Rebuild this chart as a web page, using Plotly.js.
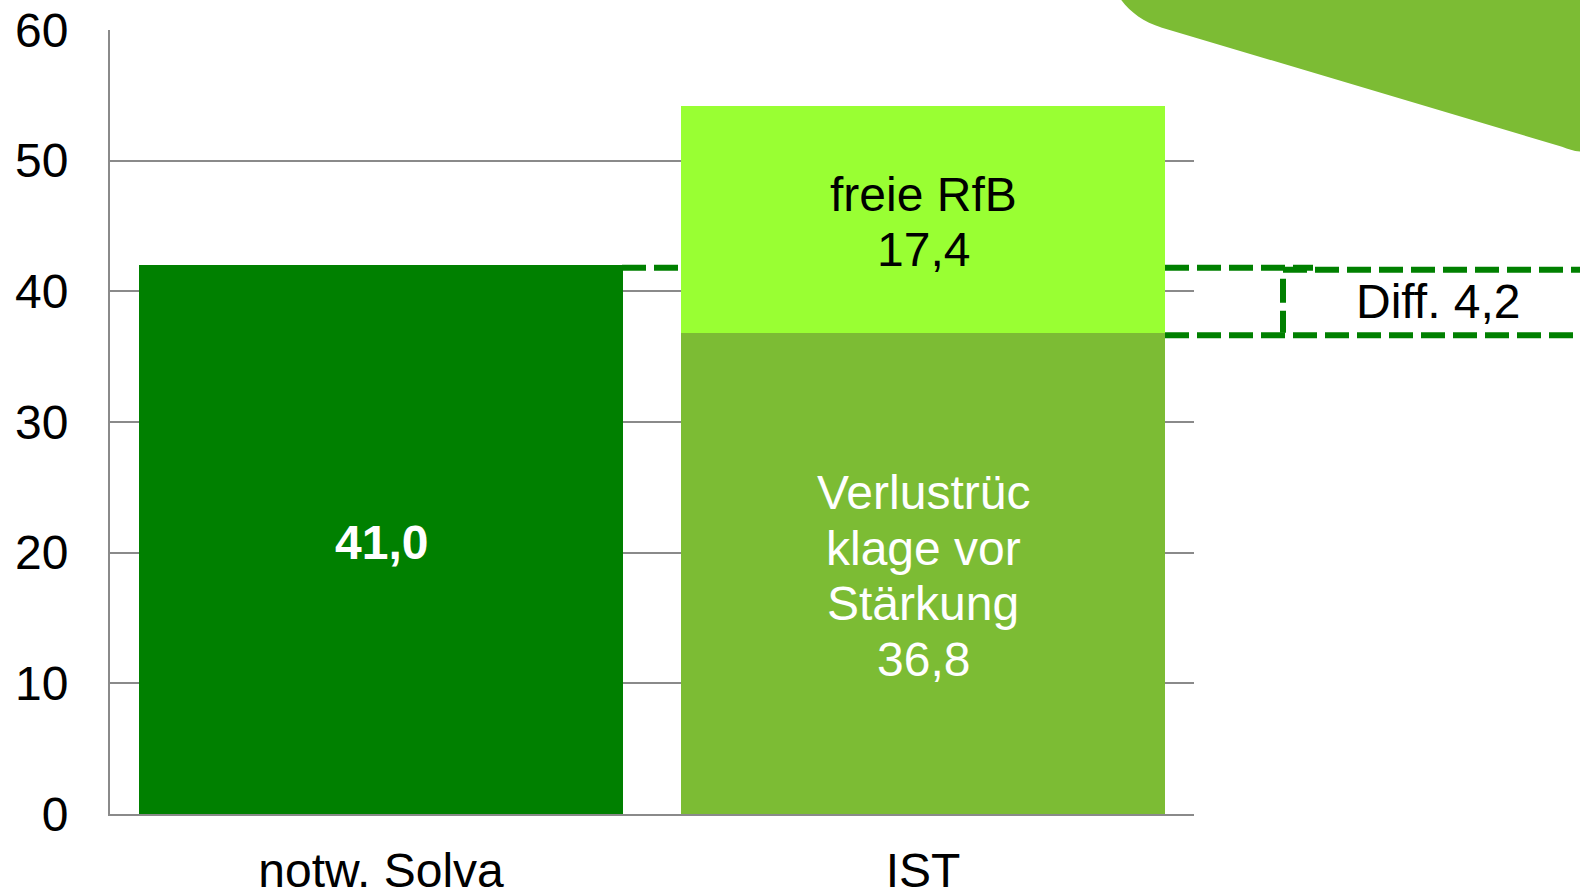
<!DOCTYPE html>
<html>
<head>
<meta charset="utf-8">
<script src="https://cdn.plot.ly/plotly-3.0.1.min.js"></script>
<style>html,body{margin:0;padding:0;background:#fff;}#chart{width:1580px;height:892px;}</style>
</head>
<body>
<div id="chart"></div>
<script>
// ---- data ----
const categories = ["notw. Solva", "IST"];
const solvaValues = [42.0];            // drawn bar height (as in the picture)
const solvaLabelLines = ["<b>41,0</b>"];
const verlustValues = [36.8];
const verlustLabelLines = ["Verlustrüc", "klage vor", "Stärkung", "36,8"];
const rfbValues = [17.4];
const rfbLabelLines = ["freie RfB", "17,4"];
const diffLabel = "Diff. 4,2";
const yTicks = [0, 10, 20, 30, 40, 50, 60];

// ---- layout helpers (pixel -> paper) ----
const L = 110, R = 1194, T = 30.3, B = 814.3;
const px = x => (x - L) / (R - L);
const py = y => (B - y) / (B - T);

const FONT = "Liberation Sans, Arial, Helvetica, sans-serif";
const FS = 48;
const LINE_GAP = 55.4;
const TEXT_NUDGE = -2.5;
const DARK = "#008000", MID = "#7cbc34", LIME = "#99ff33";

const traces = [
  {type: "bar", x: [categories[0]], y: solvaValues, marker: {color: DARK, line: {width: 0}}, hoverinfo: "skip"},
  {type: "bar", x: [categories[1]], y: verlustValues, marker: {color: MID, line: {width: 0}}, hoverinfo: "skip"},
  {type: "bar", x: [categories[1]], y: rfbValues, marker: {color: LIME, line: {width: 0}}, hoverinfo: "skip"}
];

// text labels centred in each bar segment, one annotation per line
function segmentLabel(cat, base, value, lines, color) {
  const n = lines.length;
  return lines.map((t, i) => ({
    xref: "x", yref: "y", x: cat, y: base + value / 2, text: t, showarrow: false,
    xanchor: "center", yanchor: "middle", yshift: ((n - 1) / 2 - i) * LINE_GAP + TEXT_NUDGE,
    font: {family: FONT, size: FS, color: color}
  }));
}

const dashLine = {color: DARK, width: 6, dash: "24px,8px"};
const shapes = [
  // decorative green arrow shape at top right
  {type: "path", xref: "paper", yref: "paper", layer: "above",
   path: `M${px(1112)},${py(-10)} L${px(1121)},${py(0)} C${px(1131)},${py(13)} ${px(1143)},${py(22)} ${px(1162)},${py(28)} ` +
         `L${px(1562)},${py(147)} C${px(1570)},${py(150)} ${px(1575)},${py(152)} ${px(1585)},${py(152)} L${px(1585)},${py(-10)} Z`,
   fillcolor: MID, line: {width: 0}},
  // connector between bars
  {type: "line", xref: "paper", yref: "paper", x0: px(622), x1: px(681), y0: py(268), y1: py(268), line: dashLine},
  // diff box
  {type: "line", xref: "paper", yref: "paper", x0: px(1165), x1: px(1313), y0: py(268), y1: py(268), line: dashLine},
  {type: "line", xref: "paper", yref: "paper", x0: px(1283), x1: px(1585), y0: py(270), y1: py(270), line: dashLine},
  {type: "line", xref: "paper", yref: "paper", x0: px(1165), x1: px(1585), y0: py(335.5), y1: py(335.5), line: dashLine},
  {type: "line", xref: "paper", yref: "paper", x0: px(1283), x1: px(1283), y0: py(279), y1: py(333), line: dashLine}
];

const annotations = [].concat(
  segmentLabel(categories[0], 0, solvaValues[0], solvaLabelLines, "#ffffff"),
  segmentLabel(categories[1], 0, verlustValues[0], verlustLabelLines, "#ffffff"),
  segmentLabel(categories[1], verlustValues[0], rfbValues[0], rfbLabelLines, "#000000"),
  [{xref: "paper", yref: "paper", x: px(1438), y: py(302), text: diffLabel, showarrow: false,
    xanchor: "center", yanchor: "middle", font: {family: FONT, size: FS, color: "#000000"}}]
);

const layout = {
  width: 1580, height: 892,
  margin: {l: L, r: 1580 - R, t: T, b: 892 - B, pad: 0},
  paper_bgcolor: "#ffffff", plot_bgcolor: "#ffffff",
  barmode: "stack", bargap: 0.107,
  showlegend: false,
  font: {family: FONT, size: FS, color: "#000000"},
  xaxis: {type: "category", categoryorder: "array", categoryarray: categories,
          showline: true, linecolor: "#8a8a8a", linewidth: 2, showgrid: false, zeroline: false,
          ticks: "", tickfont: {family: FONT, size: FS, color: "#000000"}, ticklabelstandoff: 13,
          fixedrange: true},
  yaxis: {range: [0, 60], tickvals: yTicks, ticktext: yTicks.map(String),
          showline: true, linecolor: "#8a8a8a", linewidth: 2,
          showgrid: true, gridcolor: "#8a8a8a", gridwidth: 2, zeroline: false,
          ticks: "", tickfont: {family: FONT, size: FS, color: "#000000"}, ticklabelstandoff: 30,
          fixedrange: true},
  shapes: shapes,
  annotations: annotations
};

Plotly.newPlot("chart", traces, layout, {displayModeBar: false, staticPlot: true});
</script>
</body>
</html>
